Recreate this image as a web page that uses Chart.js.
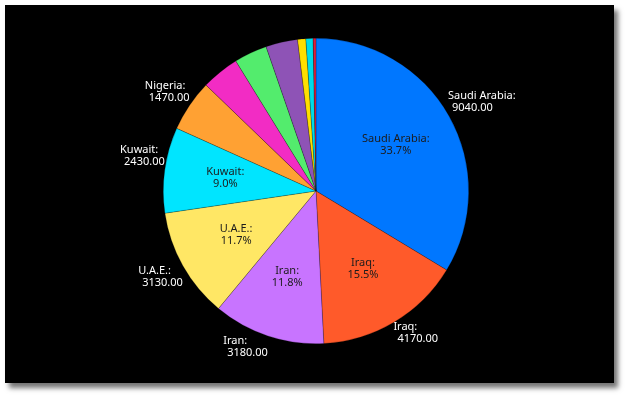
<!DOCTYPE html>
<html>
<head>
<meta charset="utf-8">
<script src="https://cdn.jsdelivr.net/npm/chart.js@4"></script>
<style>
  html, body { margin: 0; padding: 0; background: #ffffff; }
  #frame {
    position: absolute; left: 5px; top: 5px; width: 609px; height: 378px;
    background: #000000; box-shadow: 4px 5px 5px rgba(0, 0, 0, 0.55);
  }
  #pie { position: absolute; left: 0; top: 0; }
</style>
</head>
<body>
<div id="frame"></div>
<canvas id="pie" width="632" height="397"></canvas>
<script>
// oil output by country, slices go clockwise from 12 o'clock
const countries = ['Saudi Arabia', 'Iraq', 'Iran', 'U.A.E.', 'Kuwait', 'Nigeria',
                   'Angola', 'Algeria', 'Libya', 'Gabon', 'Congo', 'Equatorial Guinea'];
const output = [9040, 4170, 3180, 3130, 2430, 1470, 1075, 940, 905, 233, 205, 80];
const colours = ['#0077ff', '#ff5a2a', '#c874ff', '#ffe765', '#00e5ff', '#ffa133',
                 '#f22cc4', '#53ec6d', '#8e53b6', '#ffdf00', '#00dce8', '#dc1e3c'];

const FONT = '11px "Noto Sans"';

const labelPlugin = {
  id: 'sliceLabels',
  afterDatasetsDraw (chart)
  {
    let ctx = chart.ctx,
        meta = chart.getDatasetMeta(0),
        total = output.reduce((a, b) => a + b, 0);

    ctx.save();
    ctx.font = FONT;
    ctx.textBaseline = 'middle';

    for (let i = 0; i < meta.data.length; i++)
    {
        let arc = meta.data[i],
            pct = output[i] / total * 100,
            mid = (arc.startAngle + arc.endAngle) / 2,
            cos = Math.cos(mid), sin = Math.sin(mid);

        // percentage inside the big slices
        if (pct >= 8.5)
        {
            let ix = arc.x + cos * arc.outerRadius * 0.6,
                iy = arc.y + sin * arc.outerRadius * 0.6;
            ctx.fillStyle = '#1c1c1c';
            ctx.textAlign = 'center';
            ctx.fillText(countries[i] + ':', ix, iy - 7);
            ctx.fillText(pct.toFixed(1) + '%', ix, iy + 5);
        }

        // value outside the pie
        if (pct >= 5)
        {
            let px = arc.x + cos * arc.outerRadius,
                py = arc.y + sin * arc.outerRadius,
                l1 = countries[i] + ':',
                l2 = output[i].toFixed(2),
                w = Math.max(ctx.measureText(l1).width, ctx.measureText(l2).width + 4),
                left = cos >= 0 ? px - 1 : px - w,
                y1 = sin < 0 ? py - 20 : py + 5;
            ctx.fillStyle = '#ffffff';
            ctx.textAlign = 'left';
            ctx.fillText(l1, left, y1);
            ctx.fillText(l2, left + 4, y1 + 12);
        }
    }
    ctx.restore();
  }
};

new Chart(document.getElementById('pie'), {
    type: 'pie',
    data: {
        labels: countries,
        datasets: [{
            data: output,
            backgroundColor: colours,
            borderColor: 'rgba(0, 0, 0, 0.35)',
            borderWidth: 0.6
        }]
    },
    options: {
        responsive: false,
        animation: false,
        devicePixelRatio: 1,
        layout: { padding: { top: 38, bottom: 53, left: 0, right: 0 } },
        plugins: {
            legend: { display: false },
            tooltip: { enabled: false }
        }
    },
    plugins: [labelPlugin]
});
</script>
</body>
</html>
